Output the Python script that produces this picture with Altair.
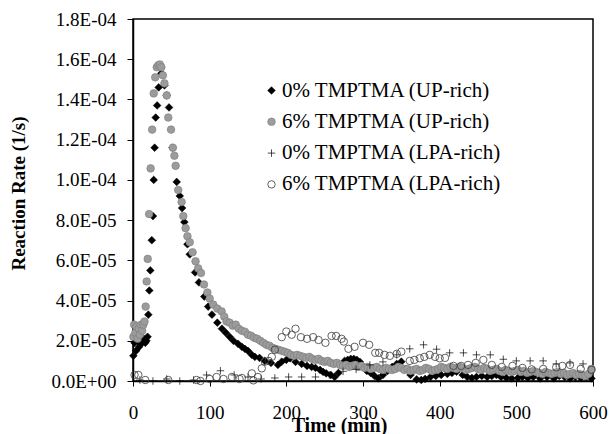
import altair as alt
import pandas as pd

series_names = ["0% TMPTMA (UP-rich)", "6% TMPTMA (UP-rich)",
                "0% TMPTMA (LPA-rich)", "6% TMPTMA (LPA-rich)"]

# times in min, rates in units of 1e-5 1/s
up0_time = [0.5, 2, 4, 6, 8, 10, 12, 14, 16, 17.5, 19, 20, 21.3, 22.6, 24.5, 26, 27, 28.2, 29.6, 31.5,
            33.5, 37, 41, 44, 47, 51.5, 57, 61, 64, 67, 71, 74, 81, 86, 93, 98, 103, 110, 116, 121,
            126, 131, 137, 142, 146, 150, 155, 159, 165, 172, 180, 189, 194, 200, 205, 212, 220, 227,
            233, 238, 244, 248, 252, 258, 263, 268, 272, 276, 280, 284, 288, 292, 296, 300, 305, 310,
            315, 320, 326, 332, 338, 344, 350, 356, 362, 370, 376, 381, 388, 395, 402, 410, 416, 422,
            430, 436, 442, 448, 455, 462, 468, 474, 480, 487, 494, 502, 508, 515, 522, 531, 540, 549,
            556, 563, 570, 577, 584, 591, 598]
up0_rate = [1.25, 1.9, 1.5, 2.0, 1.7, 2.1, 1.9, 2.1, 1.9, 2.0, 2.2, 3.3, 4.5, 5.5, 7.0, 8.2, 10.0, 11.6, 13.1, 13.7,
            14.6, 15.3, 14.7, 14.2, 13.6, 11.6, 9.9, 9.2, 8.6, 7.9, 6.8, 6.3, 5.4, 4.9, 4.2, 3.7, 3.3, 2.9, 2.6, 2.4,
            2.2, 2.0, 1.85, 1.7, 1.6, 1.5, 1.3, 1.2, 1.15, 1.0, 0.9, 0.8, 0.96, 1.05, 1.13, 0.95, 0.85, 0.75,
            0.7, 0.65, 0.55, 0.45, 0.38, 0.3, 0.2, 0.4, 0.8, 1.0, 1.05, 1.1, 1.1, 1.05, 0.95, 0.7, 0.5, 0.4,
            0.25, 0.13, 0.3, 0.5, 0.7, 0.85, 0.96, 0.6, 0.3, 0.08, 0.05, 0.1, 0.2, 0.25, 0.3, 0.35, 0.4, 0.46,
            0.3, 0.2, 0.15, 0.2, 0.25, 0.2, 0.25, 0.3, 0.2, 0.15, 0.13, 0.15, 0.2, 0.15, 0.2, 0.13, 0.2, 0.13,
            0.25, 0.2, 0.13, 0.2, 0.15, 0.2, 0.13]

up6_time = [0.5, 1.5, 3, 4.5, 6, 7.5, 9, 10.5, 12, 13.5, 15, 16.5, 17.8, 19.2, 21, 23, 25, 27, 29, 31,
            33, 35, 37, 39, 41, 44, 46, 49.6, 52, 54, 55.6, 59, 63.4, 65.6, 68.6, 71, 74, 77.7, 81.6, 85,
            88.7, 92.6, 97, 100, 104.7, 110, 115.6, 119, 122,
            126, 130, 134, 138, 142, 146, 150, 154, 158, 162, 166, 170, 174, 178, 182, 186, 190, 194, 198,
            202, 206, 210, 214, 218, 222, 226, 230, 234, 238, 242, 246, 250, 254, 258, 262, 266, 270, 274,
            278, 282, 286, 290, 294, 298, 302, 306, 310, 314, 318, 322, 326, 330, 334, 338, 342, 346, 350,
            354, 358, 362, 366, 370, 374, 378, 382, 386, 390, 394, 398, 402, 406, 410, 414, 418, 422, 426,
            430, 434, 438, 442, 446, 450, 454, 458, 462, 466, 470, 474, 478, 482, 486, 490, 494, 498, 502,
            506, 510, 514, 518, 522, 526, 530, 534, 538, 542, 546, 550, 554, 558, 562, 566, 570, 574, 578,
            582, 586, 590, 594, 598]
up6_rate = [2.2, 2.8, 2.4, 2.7, 2.1, 2.6, 2.3, 2.8, 2.5, 2.8, 2.96, 3.7, 4.95, 6.07, 8.3, 10.57, 12.5, 14.3, 15.1, 15.6,
            15.7, 15.74, 15.6, 15.2, 14.8, 14.2, 13.1, 12.5, 11.6, 11.2, 10.7, 9.5, 8.9, 8.2, 7.6, 7.2, 6.9, 6.4, 5.95, 5.6,
            5.37, 4.8, 4.4, 4.1, 3.8, 3.6, 3.46, 3.2, 2.96,
            2.9, 2.75, 2.8, 2.6, 2.5, 2.45, 2.3, 2.25, 2.15, 2.1, 2.0, 1.9, 1.8, 1.75, 1.65, 1.6, 1.55, 1.5, 1.45,
            1.4, 1.3, 1.25, 1.3, 1.25, 1.2, 1.15, 1.2, 1.1, 1.05, 1.1, 1.0, 0.95, 1.0, 0.9, 0.85, 0.9, 0.8, 0.75,
            0.8, 0.7, 0.75, 0.8, 0.7, 0.75, 0.65, 0.7, 0.6, 0.65, 0.7, 0.6, 0.55, 0.65, 0.6, 0.55, 0.6, 0.7, 0.65,
            0.55, 0.6, 0.5, 0.55, 0.6, 0.5, 0.55, 0.65, 0.6, 0.5, 0.55, 0.6, 0.7, 0.65, 0.6, 0.7, 0.65, 0.6, 0.7,
            0.65, 0.55, 0.6, 0.65, 0.7, 0.6, 0.55, 0.65, 0.6, 0.5, 0.55, 0.6, 0.5, 0.45, 0.55, 0.5, 0.45, 0.5, 0.55,
            0.45, 0.5, 0.4, 0.45, 0.5, 0.45, 0.4, 0.35, 0.45, 0.4, 0.35, 0.4, 0.45, 0.35, 0.4, 0.3, 0.35, 0.4, 0.3,
            0.35, 0.3, 0.25, 0.35, 0.6]

lpa0_time = [9, 26, 44, 61, 79, 96, 114, 132, 150, 167, 185, 203, 220, 238, 256, 274, 291, 309, 326, 344,
             361, 379, 396, 413, 431, 448, 466, 483, 500, 518, 535, 552, 570, 587]
lpa0_rate = [0.05, 0.0, 0.1, 0.0, 0.05, 0.3, 0.51, 0.3, 0.2, 0.1, 0.15, 0.2, 0.2, 0.2, 0.3, 0.48, 0.58, 0.8, 0.95, 1.3,
             1.6, 1.8, 1.58, 1.4, 1.4, 1.3, 1.3, 1.08, 1.0, 1.0, 1.0, 0.85, 0.9, 0.85]

lpa6_time = [2, 7, 16, 46, 83, 88, 100, 109, 118, 129, 139, 142, 155, 157, 163, 168, 172, 177, 181, 185,
             194, 200, 207, 212, 219, 227, 235, 242, 251, 259, 265, 272, 275, 281, 289, 300, 308, 316, 321, 328,
             335, 344, 350, 361, 367, 374, 380, 387, 394, 400, 407, 418, 428, 437, 447, 457, 468, 481, 495, 508,
             520, 535, 552, 560, 570, 584, 598]
lpa6_rate = [0.3, 0.3, 0.05, 0.05, 0.05, 0.0, 0.1, 0.2, 0.1, 0.2, 0.1, 0.15, 0.38, 0.03, 0.2, 0.63, 0.96, 1.0, 1.2, 1.55,
             2.18, 2.46, 2.3, 2.6, 2.18, 2.1, 2.18, 2.04, 1.9, 2.24, 2.24, 2.1, 1.96, 1.6, 1.7, 1.9, 1.8, 1.4, 1.4, 1.3,
             1.25, 1.35, 1.46, 1.0, 1.05, 1.13, 1.2, 1.3, 1.2, 1.13, 1.15, 0.75, 0.75, 0.8, 0.9, 1.05, 0.8, 0.7, 0.75, 0.65,
             0.58, 0.6, 0.68, 0.75, 0.8, 0.6, 0.55]

x_ticks = [0, 100, 200, 300, 400, 500, 600]
y_ticks = [0, 2e-5, 4e-5, 6e-5, 8e-5, 1e-4, 1.2e-4, 1.4e-4, 1.6e-4, 1.8e-4]

rows = []
for name, ts, vs in zip(series_names,
                        [up0_time, up6_time, lpa0_time, lpa6_time],
                        [up0_rate, up6_rate, lpa0_rate, lpa6_rate]):
    for t, v in zip(ts, vs):
        rows.append({"series": name, "time": t, "rate": v * 1e-5})
df = pd.DataFrame(rows)

plus_path = "M-1,0L1,0M0,-1L0,1"
FONT = "Liberation Serif"

y_label_expr = ("datum.value < 1e-9 ? '0.0E+00' : (datum.value < 9.99e-5 ? "
                "format(datum.value*1e5, '.1f') + 'E-05' : format(datum.value*1e4, '.1f') + 'E-04')")

legend = alt.Legend(title=None, orient="none", legendX=128, legendY=61,
                    labelFont=FONT, labelFontSize=21, labelColor="#000",
                    labelOffset=0, rowPadding=9.3,
                    padding=0, labelLimit=400)

chart = alt.Chart(df).mark_point(filled=True, opacity=1).encode(
    x=alt.X("time:Q",
            scale=alt.Scale(domain=[0, 600], nice=False),
            axis=alt.Axis(values=x_ticks, title="Time (min)", grid=False, labelFlush=False,
                          labelFont=FONT, labelFontSize=19, labelColor="#000",
                          labelPadding=17, tickSize=5,
                          titleFont=FONT, titleFontSize=20, titleFontWeight="bold",
                          titleColor="#000", titleX=206, titleY=50,
                          titleBaseline="alphabetic", titleAlign="center")),
    y=alt.Y("rate:Q",
            scale=alt.Scale(domain=[0, 1.8e-4], nice=False),
            axis=alt.Axis(values=y_ticks, title="Reaction Rate (1/s)", grid=False, labelFlush=False,
                          labelExpr=y_label_expr,
                          labelFont=FONT, labelFontSize=19, labelColor="#000",
                          labelPadding=11, tickSize=6,
                          titleFont=FONT, titleFontSize=19, titleFontWeight="bold",
                          titleColor="#000", titleX=-115, titleY=174, titleAngle=270,
                          titleBaseline="middle", titleAlign="center")),
    shape=alt.Shape("series:N",
                    scale=alt.Scale(domain=series_names,
                                    range=["diamond", "circle", plus_path, "circle"]),
                    legend=legend),
    fill=alt.Fill("series:N",
                  scale=alt.Scale(domain=series_names,
                                  range=["#000000", "#9c9c9c", "transparent", "transparent"]),
                  legend=legend),
    stroke=alt.Stroke("series:N",
                      scale=alt.Scale(domain=series_names,
                                      range=["#000000", "#7a7a7a", "#000000", "#3a3a3a"]),
                      legend=legend),
    size=alt.Size("series:N",
                  scale=alt.Scale(domain=series_names, range=[60, 55, 90, 60]),
                  legend=legend),
    strokeWidth=alt.StrokeWidth("series:N",
                                scale=alt.Scale(domain=series_names, range=[0.5, 0.8, 1.8, 1.0]),
                                legend=legend),
).properties(
    width=460, height=362,
    padding={"left": 133, "top": 19, "right": 18, "bottom": 53},
    autosize="none",
    background="white",
).configure(
    font=FONT
).configure_view(
    stroke="#000", strokeWidth=1.5
).configure_axis(
    domainColor="#000", domainWidth=1.5, tickColor="#000", tickWidth=1,
    labelFont=FONT, titleFont=FONT
).configure_legend(
    labelFont=FONT
)

chart.save("out.html", embed_options={"renderer": "svg", "actions": False})
